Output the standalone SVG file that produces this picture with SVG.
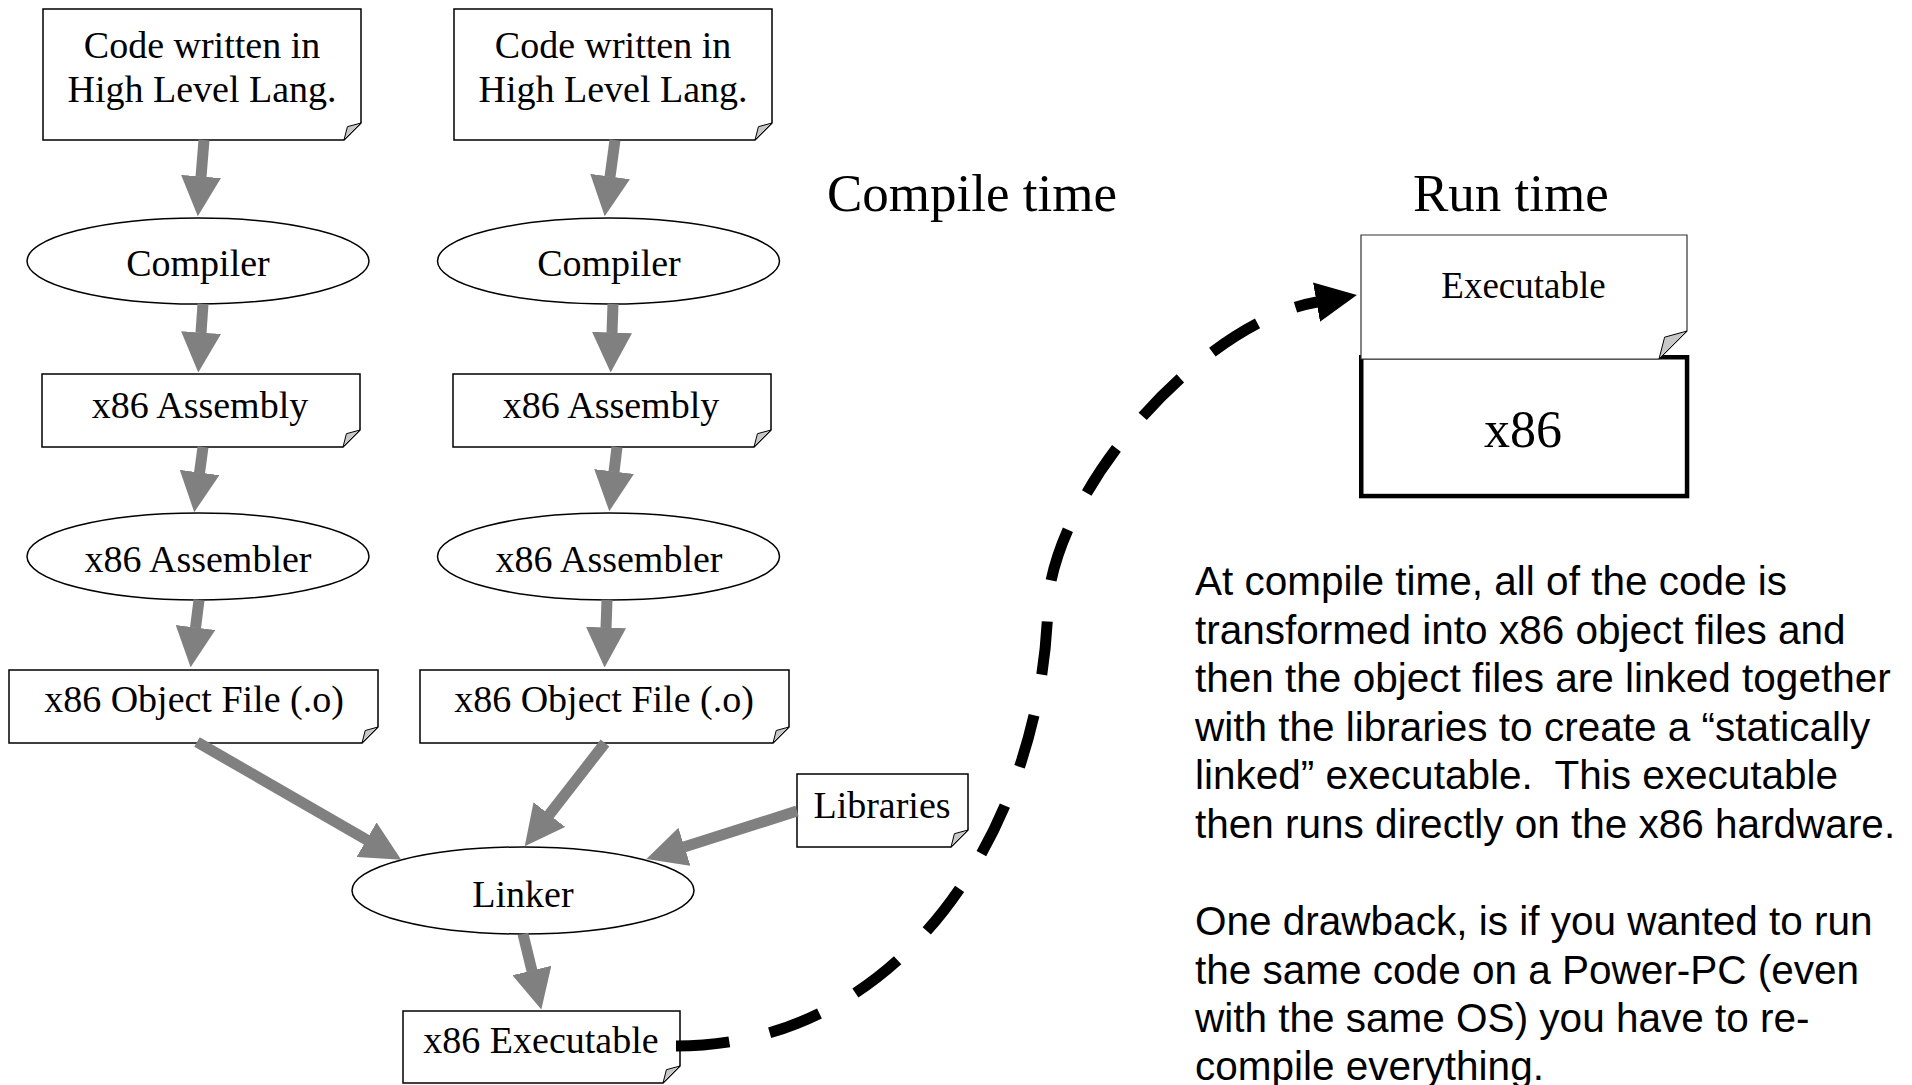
<svg xmlns="http://www.w3.org/2000/svg" width="1912" height="1085" viewBox="0 0 1912 1085">
<style>
.doc{fill:#fff;stroke:#000;stroke-width:1.5;stroke-linejoin:miter}
.fold{fill:#c8c8c8;stroke:#000;stroke-width:1;stroke-linejoin:round}
.ell{fill:#fff;stroke:#000;stroke-width:1.5}
.lbl{font-family:"Liberation Serif","Times New Roman",serif;font-size:38px;text-anchor:middle;fill:#000}
.title{font-family:"Liberation Serif","Times New Roman",serif;font-size:53px;fill:#000}
.para{font-family:"Liberation Sans",Arial,sans-serif;font-size:40.5px;fill:#000;white-space:pre}
.g{stroke:#808080;stroke-width:11;fill:none;marker-end:url(#gh)}
.dash{stroke:#000;stroke-width:11;fill:none;stroke-dasharray:53 41;marker-end:url(#bh)}
</style>
<defs>
<marker id="gh" markerUnits="userSpaceOnUse" viewBox="0 0 40 40" markerWidth="40" markerHeight="40" refX="0.5" refY="20" orient="auto"><path d="M0,0L40,20L0,40Z" fill="#808080"/></marker>
<marker id="bh" markerUnits="userSpaceOnUse" viewBox="0 0 41 40" markerWidth="41" markerHeight="40" refX="0.5" refY="20" orient="auto"><path d="M0,0L41,20L0,40Z" fill="#000"/></marker>
</defs>
<rect width="1912" height="1085" fill="#fff"/>

<text class="title" x="827" y="211">Compile time</text>
<text class="title" x="1413" y="211">Run time</text>

<g id="src1">
<path class="doc" d="M43 9H361V123L344 140H43Z"/>
<path class="fold" d="M361 123L347.4 126.7L344 140Z"/>
<text class="lbl" x="202" y="58">Code written in</text>
<text class="lbl" x="202" y="102">High Level Lang.</text>
</g>
<g id="src2">
<path class="doc" d="M454 9H772V123L755 140H454Z"/>
<path class="fold" d="M772 123L758.4 126.7L755 140Z"/>
<text class="lbl" x="613" y="58">Code written in</text>
<text class="lbl" x="613" y="102">High Level Lang.</text>
</g>
<g id="compiler1">
<ellipse class="ell" cx="198" cy="261" rx="171" ry="43"/>
<text class="lbl" x="198" y="276">Compiler</text>
</g>
<g id="compiler2">
<ellipse class="ell" cx="608.5" cy="261" rx="171" ry="43"/>
<text class="lbl" x="609" y="276">Compiler</text>
</g>
<g id="asm1">
<path class="doc" d="M42 374H360V430L343 447H42Z"/>
<path class="fold" d="M360 430L346.4 433.7L343 447Z"/>
<text class="lbl" x="200" y="418">x86 Assembly</text>
</g>
<g id="asm2">
<path class="doc" d="M453 374H771V430L754 447H453Z"/>
<path class="fold" d="M771 430L757.4 433.7L754 447Z"/>
<text class="lbl" x="611" y="418">x86 Assembly</text>
</g>
<g id="assembler1">
<ellipse class="ell" cx="198" cy="556.5" rx="171" ry="43.5"/>
<text class="lbl" x="198" y="572">x86 Assembler</text>
</g>
<g id="assembler2">
<ellipse class="ell" cx="608.5" cy="556.5" rx="171" ry="43.5"/>
<text class="lbl" x="609" y="572">x86 Assembler</text>
</g>
<g id="obj1">
<path class="doc" d="M9 670H378V727L362 743H9Z"/>
<path class="fold" d="M378 727L365.2 730.5L362 743Z"/>
<text class="lbl" x="194" y="712">x86 Object File (.o)</text>
</g>
<g id="obj2">
<path class="doc" d="M420 670H789V727L773 743H420Z"/>
<path class="fold" d="M789 727L776.2 730.5L773 743Z"/>
<text class="lbl" x="604" y="712">x86 Object File (.o)</text>
</g>
<g id="libraries">
<path class="doc" d="M797 774H968V830L951 847H797Z"/>
<path class="fold" d="M968 830L954.4 833.7L951 847Z"/>
<text class="lbl" x="882" y="818">Libraries</text>
</g>
<g id="linker">
<ellipse class="ell" cx="523" cy="890.5" rx="171" ry="43.5"/>
<text class="lbl" x="523" y="907">Linker</text>
</g>
<g id="exe">
<path class="doc" d="M403 1011H680V1066L663 1083H403Z"/>
<path class="fold" d="M680 1066L666.4 1069.7L663 1083Z"/>
<text class="lbl" x="541" y="1053">x86 Executable</text>
</g>
<g id="runtime">
<rect x="1361.25" y="357.25" width="325.8" height="138.8" fill="#fff" stroke="#000" stroke-width="4.5"/>
<text class="lbl" x="1523" y="447" style="font-size:52px">x86</text>
<path d="M1361 235H1687V331L1659 359H1361Z" fill="#fff" stroke="#333" stroke-width="1.2"/>
<path class="fold" d="M1687 331L1664.6 337.2L1659 359Z"/>
<text class="lbl" x="1523.5" y="298" style="font-size:37px">Executable</text>
</g>

<g id="connectors">
<line class="g" x1="204" y1="140" x2="201" y2="177"/>
<line class="g" x1="203" y1="304" x2="201" y2="333"/>
<line class="g" x1="203" y1="447" x2="199.5" y2="473"/>
<line class="g" x1="199" y1="600" x2="195.5" y2="628"/>
<line class="g" x1="615" y1="140" x2="610" y2="177"/>
<line class="g" x1="613" y1="304" x2="612" y2="333"/>
<line class="g" x1="617" y1="447" x2="614" y2="472"/>
<line class="g" x1="607" y1="600" x2="606" y2="628"/>
<line class="g" x1="197" y1="742" x2="367" y2="840"/>
<line class="g" x1="605" y1="743" x2="549" y2="815"/>
<line class="g" x1="797" y1="811" x2="684" y2="847"/>
<line class="g" x1="523" y1="934" x2="532" y2="971"/>
<path class="dash" pathLength="1056" d="M676 1046C911 1046 1045 815 1048 600C1060 482 1204 322 1317 302"/>
</g>

<text class="para" x="1195" y="595"><tspan x="1195" y="595">At compile time, all of the code is</tspan><tspan x="1195" y="643.5">transformed into x86 object files and</tspan><tspan x="1195" y="692">then the object files are linked together</tspan><tspan x="1195" y="740.5">with the libraries to create a “statically</tspan><tspan x="1195" y="789">linked” executable.  This executable</tspan><tspan x="1195" y="837.5">then runs directly on the x86 hardware.</tspan><tspan x="1195" y="935">One drawback, is if you wanted to run</tspan><tspan x="1195" y="983.5">the same code on a Power-PC (even</tspan><tspan x="1195" y="1032">with the same OS) you have to re-</tspan><tspan x="1195" y="1080">compile everything.</tspan></text>
</svg>
